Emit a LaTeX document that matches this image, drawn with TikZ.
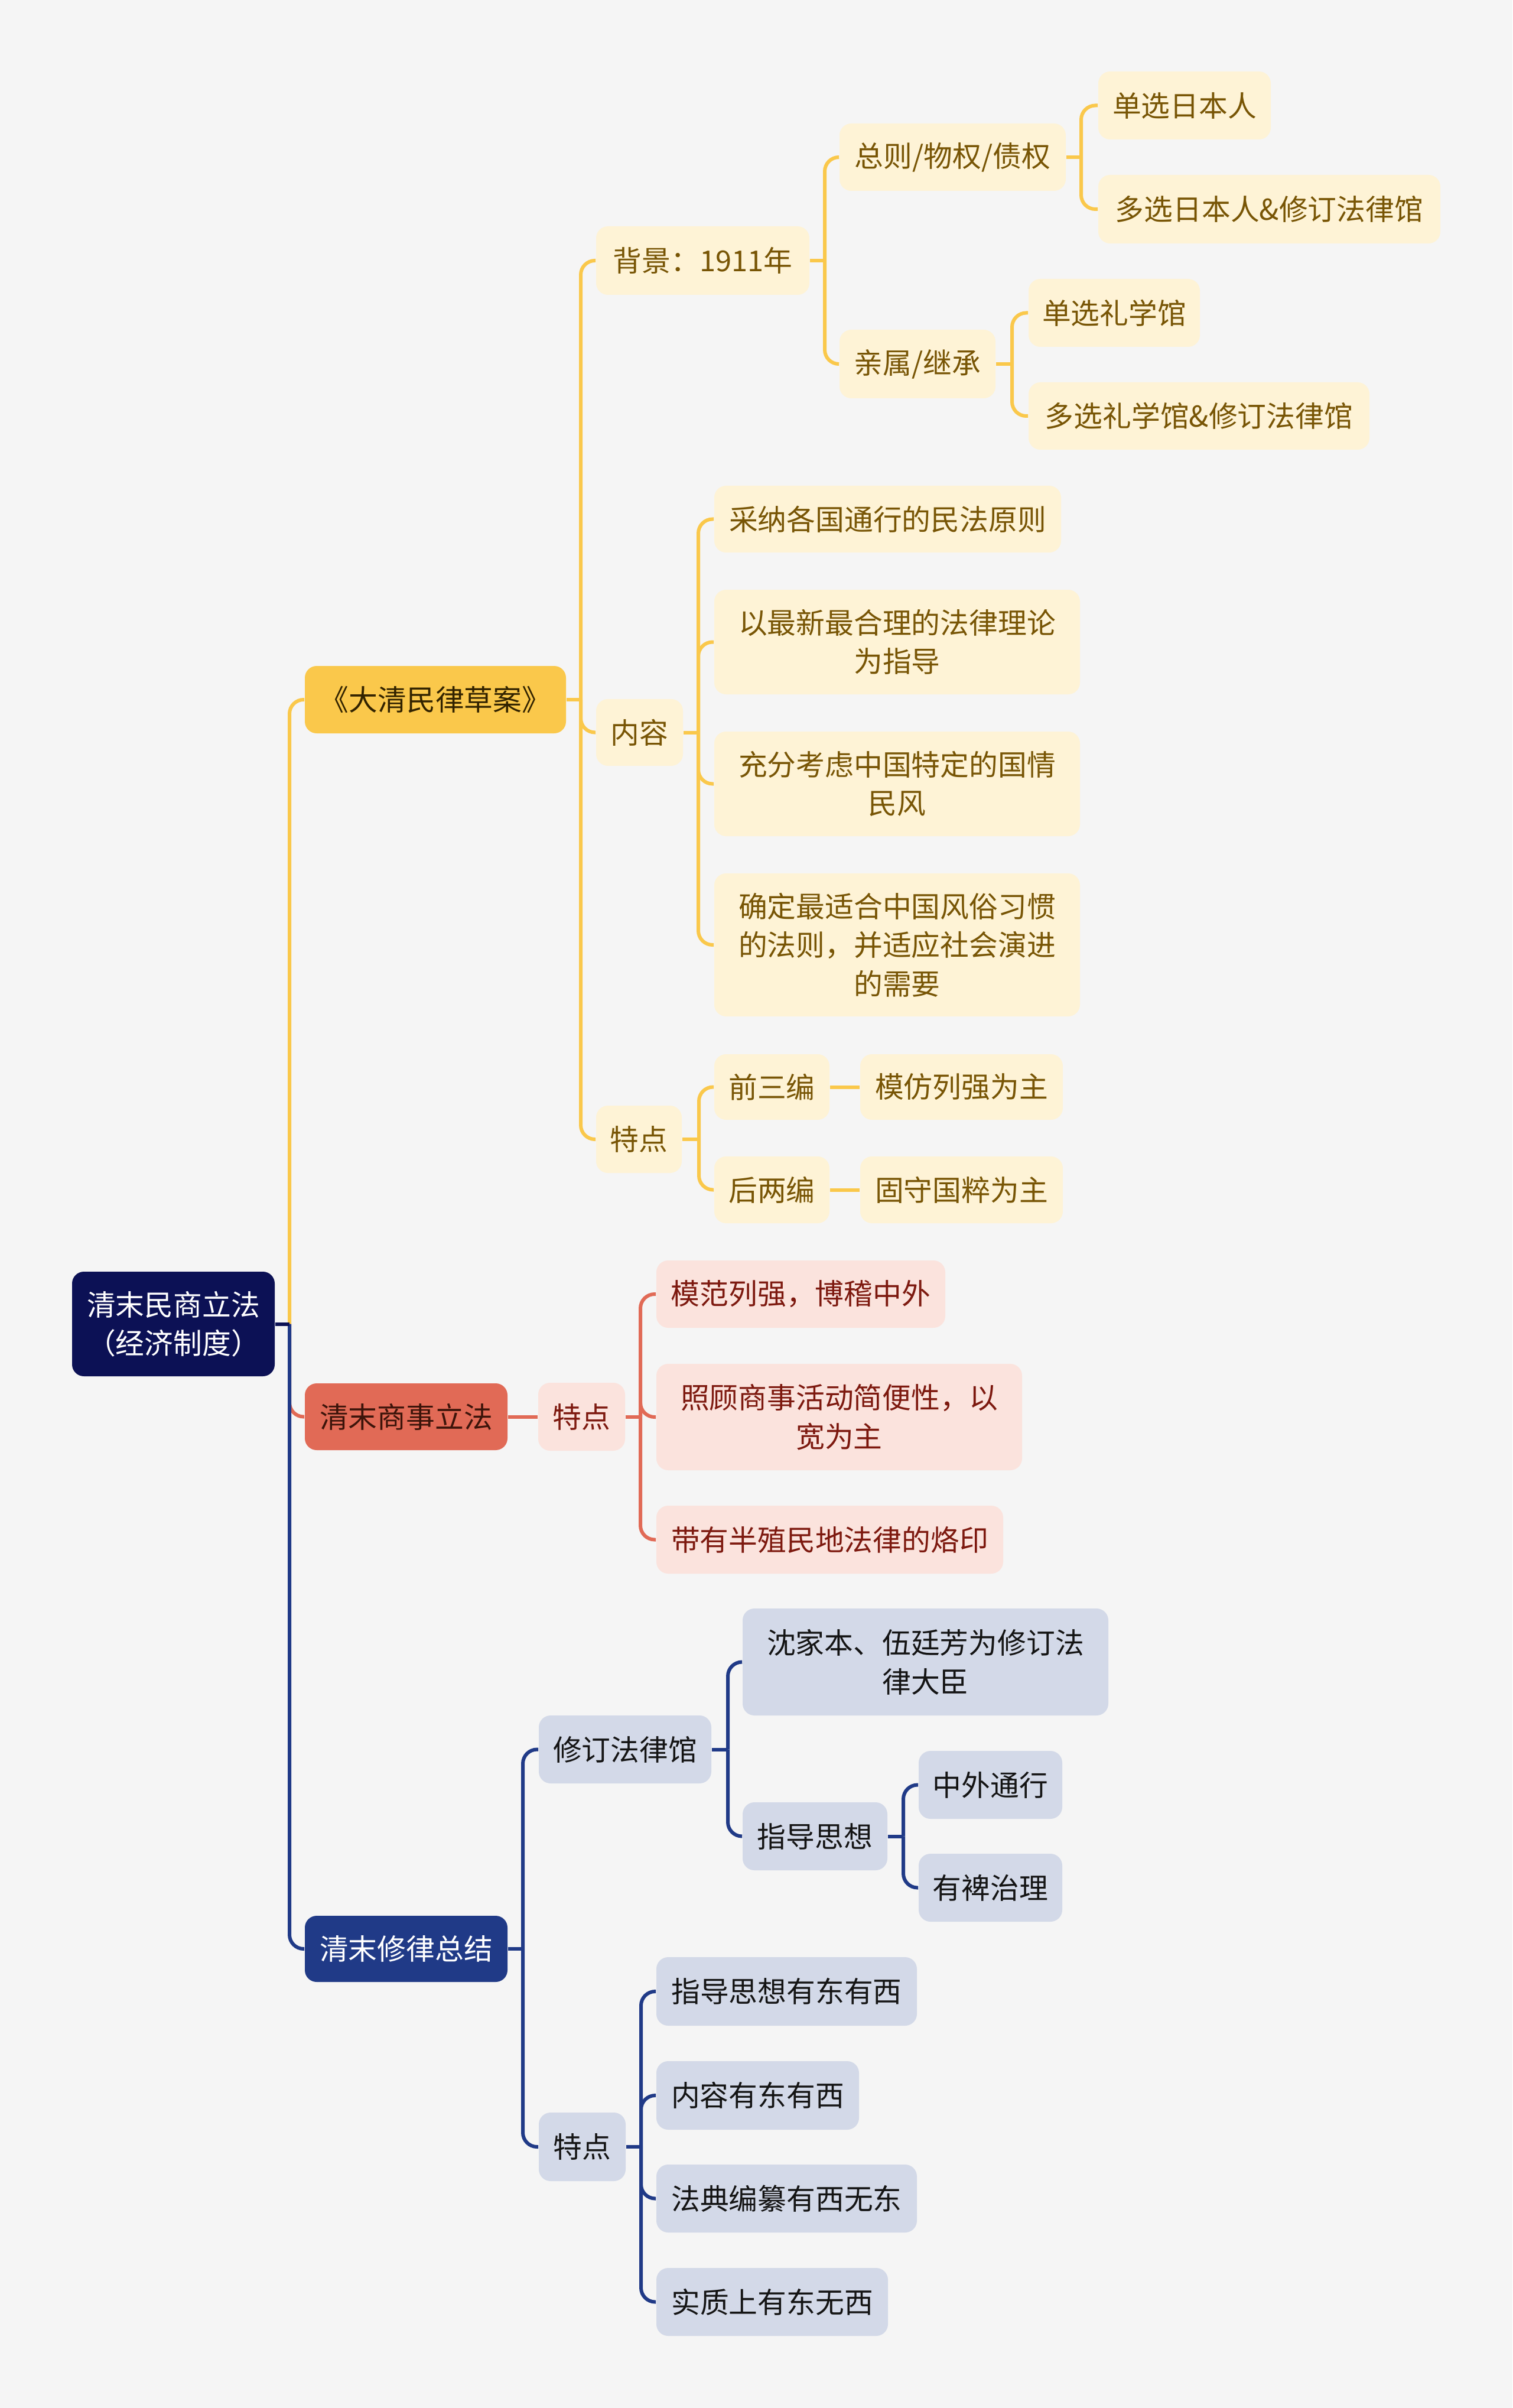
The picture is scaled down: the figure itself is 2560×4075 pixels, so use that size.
\documentclass[tikz,border=0pt]{standalone}
\usepackage{fontspec}
\setmainfont{Noto Sans CJK SC}
\definecolor{bg}{RGB}{245,245,245}
\definecolor{ycol}{RGB}{250,200,75}
\definecolor{ylight}{RGB}{254,243,214}
\definecolor{ytext}{RGB}{120,85,5}
\definecolor{dqtext}{RGB}{50,35,0}
\definecolor{rcol}{RGB}{225,106,86}
\definecolor{rlight}{RGB}{251,227,221}
\definecolor{rtext}{RGB}{125,25,15}
\definecolor{sxtext}{RGB}{60,20,10}
\definecolor{bcol}{RGB}{32,58,135}
\definecolor{blight}{RGB}{211,217,232}
\definecolor{btext}{RGB}{20,20,20}
\definecolor{rootfill}{RGB}{12,17,85}
\newcommand\mknode[7]{\node[#6, minimum width={(#4-#2)*0.25pt}, minimum height={(#5-#3)*0.25pt}] (#1) at ({(#2+#4)/2},{(#3+#5)/2}) {#7};}
\begin{document}
\begin{tikzpicture}[x=0.25pt,y=-0.25pt,
  base/.style={rounded corners=5pt, inner sep=0pt, align=center, font=\fontsize{12.2}{16.4}\selectfont},
  rootbox/.style={base, fill=rootfill, text=white},
  dqbox/.style={base, fill=ycol, text=dqtext},
  sxbox/.style={base, fill=rcol, text=sxtext},
  xlbox/.style={base, fill=bcol, text=white},
  ybox/.style={base, fill=ylight, text=ytext},
  rbox/.style={base, fill=rlight, text=rtext},
  bbox/.style={base, fill=blight, text=btext},
  cy/.style={draw=ycol, line width=1.5pt},
  cr/.style={draw=rcol, line width=1.5pt},
  cb/.style={draw=bcol, line width=1.5pt},
  cn/.style={draw=rootfill, line width=1.5pt},
  rc/.style={rounded corners=6pt}]
\fill[bg] (0,0) rectangle (2560,4075);
\useasboundingbox (0,0) rectangle (2560,4075);

% vertical line positions
\coordinate (vR) at (490,0);
\coordinate (vA) at (983,0);
\coordinate (vB) at (1396,0);
\coordinate (vC) at (1830,0);
\coordinate (vD) at (1713,0);
\coordinate (vE) at (1182,0);
\coordinate (vF) at (1183,0);
\coordinate (vG) at (1084,0);
\coordinate (vH) at (885,0);
\coordinate (vI) at (1232,0);
\coordinate (vJ) at (1529,0);
\coordinate (vK) at (1085,0);

% nodes
\mknode{root}{122}{2152}{465}{2329}{rootbox}{清末民商立法\\（经济制度）}
\mknode{dq}{516}{1127}{958}{1241}{dqbox}{《大清民律草案》}
\mknode{sx}{516}{2341}{859}{2454}{sxbox}{清末商事立法}
\mknode{xl}{516}{3242}{859}{3354}{xlbox}{清末修律总结}

\mknode{bj}{1009}{383}{1370}{499}{ybox}{背景：1911年}
\mknode{nr}{1009}{1183}{1156}{1296}{ybox}{内容}
\mknode{tdA}{1009}{1871}{1154}{1985}{ybox}{特点}

\mknode{zz}{1421}{209}{1804}{323}{ybox}{总则/物权/债权}
\mknode{qs}{1421}{558}{1685}{674}{ybox}{亲属/继承}
\mknode{da}{1859}{121}{2151}{236}{ybox}{单选日本人}
\mknode{db}{1859}{296}{2438}{412}{ybox}{多选日本人\&修订法律馆}
\mknode{dc}{1741}{472}{2031}{587}{ybox}{单选礼学馆}
\mknode{dd}{1741}{647}{2318}{761}{ybox}{多选礼学馆\&修订法律馆}

\mknode{ca}{1209}{822}{1796}{935}{ybox}{采纳各国通行的民法原则}
\mknode{cb}{1209}{998}{1828}{1175}{ybox}{以最新最合理的法律理论\\为指导}
\mknode{cc}{1209}{1238}{1828}{1415}{ybox}{充分考虑中国特定的国情\\民风}
\mknode{cd}{1209}{1478}{1828}{1720}{ybox}{确定最适合中国风俗习惯\\的法则，并适应社会演进\\的需要}

\mknode{qa}{1209}{1784}{1404}{1895}{ybox}{前三编}
\mknode{hb}{1209}{1957}{1404}{2070}{ybox}{后两编}
\mknode{ma}{1456}{1784}{1799}{1895}{ybox}{模仿列强为主}
\mknode{gb}{1456}{1957}{1799}{2070}{ybox}{固守国粹为主}

\mknode{tdB}{911}{2340}{1058}{2455}{rbox}{特点}
\mknode{sa}{1111}{2133}{1600}{2247}{rbox}{模范列强，博稽中外}
\mknode{sb}{1111}{2308}{1730}{2488}{rbox}{照顾商事活动简便性，以\\宽为主}
\mknode{sc}{1111}{2548}{1698}{2663}{rbox}{带有半殖民地法律的烙印}

\mknode{xg}{912}{2903}{1204}{3018}{bbox}{修订法律馆}
\mknode{sj}{1257}{2722}{1876}{2903}{bbox}{沈家本、伍廷芳为修订法\\律大臣}
\mknode{zd}{1257}{3050}{1502}{3165}{bbox}{指导思想}
\mknode{zw}{1555}{2963}{1798}{3078}{bbox}{中外通行}
\mknode{yb}{1555}{3137}{1798}{3252}{bbox}{有裨治理}

\mknode{tdC}{912}{3575}{1059}{3691}{bbox}{特点}
\mknode{ta}{1111}{3312}{1552}{3428}{bbox}{指导思想有东有西}
\mknode{tb}{1111}{3488}{1454}{3604}{bbox}{内容有东有西}
\mknode{tc}{1111}{3663}{1552}{3778}{bbox}{法典编纂有西无东}
\mknode{te}{1111}{3838}{1503}{3953}{bbox}{实质上有东无西}

% connectors: root
\draw[cy,rc] (root.east -| vR) |- (dq.west);
\draw[cr,rc] (root.east -| vR) |- (sx.west);
\draw[cb,rc] (root.east -| vR) |- (xl.west);
\draw[cn] (root.east) -- (root.east -| vR);

% 大清民律草案
\draw[cy] (dq.east) -- (dq.east -| vA);
\foreach \c in {bj,nr,tdA} \draw[cy,rc] (dq.east -| vA) |- (\c.west);
\draw[cy] (bj.east) -- (bj.east -| vB);
\foreach \c in {zz,qs} \draw[cy,rc] (bj.east -| vB) |- (\c.west);
\draw[cy] (zz.east) -- (zz.east -| vC);
\foreach \c in {da,db} \draw[cy,rc] (zz.east -| vC) |- (\c.west);
\draw[cy] (qs.east) -- (qs.east -| vD);
\foreach \c in {dc,dd} \draw[cy,rc] (qs.east -| vD) |- (\c.west);
\draw[cy] (nr.east) -- (nr.east -| vE);
\foreach \c in {ca,cb,cc,cd} \draw[cy,rc] (nr.east -| vE) |- (\c.west);
\draw[cy] (tdA.east) -- (tdA.east -| vF);
\foreach \c in {qa,hb} \draw[cy,rc] (tdA.east -| vF) |- (\c.west);
\draw[cy] (qa.east) -- (ma.west);
\draw[cy] (hb.east) -- (gb.west);

% 清末商事立法
\draw[cr] (sx.east) -- (tdB.west);
\draw[cr] (tdB.east) -- (tdB.east -| vG);
\foreach \c in {sa,sb,sc} \draw[cr,rc] (tdB.east -| vG) |- (\c.west);

% 清末修律总结
\draw[cb] (xl.east) -- (xl.east -| vH);
\foreach \c in {xg,tdC} \draw[cb,rc] (xl.east -| vH) |- (\c.west);
\draw[cb] (xg.east) -- (xg.east -| vI);
\foreach \c in {sj,zd} \draw[cb,rc] (xg.east -| vI) |- (\c.west);
\draw[cb] (zd.east) -- (zd.east -| vJ);
\foreach \c in {zw,yb} \draw[cb,rc] (zd.east -| vJ) |- (\c.west);
\draw[cb] (tdC.east) -- (tdC.east -| vK);
\foreach \c in {ta,tb,tc,te} \draw[cb,rc] (tdC.east -| vK) |- (\c.west);
\end{tikzpicture}
\end{document}
